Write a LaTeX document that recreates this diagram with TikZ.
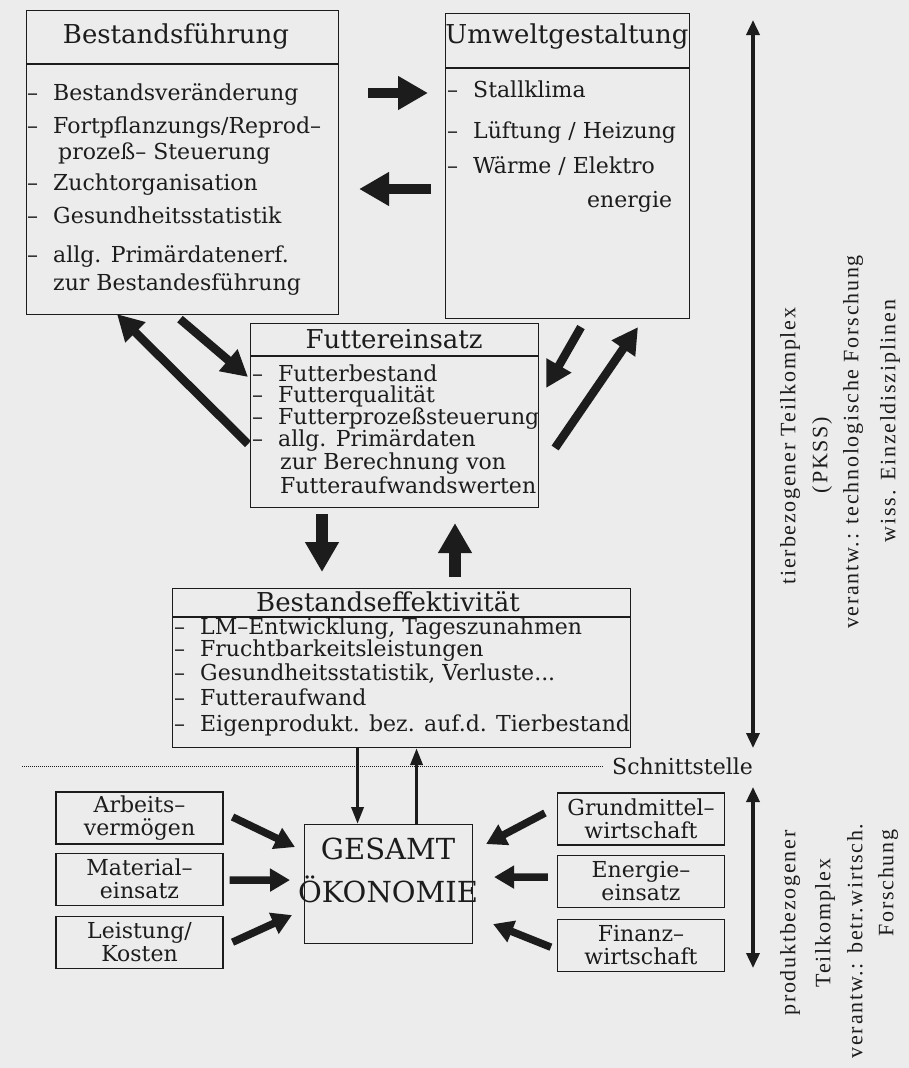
\documentclass[tikz,border=0pt]{standalone}
\usepackage{fontspec}
\setmainfont{DejaVu Serif}
\newfontfamily\sidefont[LetterSpace=8]{Liberation Serif}
\usetikzlibrary{arrows.meta,calc,positioning}
\definecolor{paper}{HTML}{ECECEC}
\definecolor{ink}{HTML}{1C1C1C}
\newcommand{\dsh}{\llap{\makebox[26pt][l]{–}}}

\begin{document}
\begin{tikzpicture}[x=1pt,y=-1pt,ink,
  box node/.style={rectangle,draw,line width=1.1pt,inner sep=0pt,anchor=north west},
  small node/.style={rectangle,draw,line width=1.1pt,inner sep=0pt,minimum width=167pt,
    minimum height=52pt,align=center,font=\fontsize{22}{23}\selectfont},
  title node/.style={inner sep=0pt,font=\fontsize{26}{28}\selectfont},
  line node/.style={anchor=west,inner sep=0pt,text height=14pt,text depth=4pt,
    font=\fontsize{22}{24}\selectfont},
  side node/.style={rotate=90,inner sep=0pt,font=\sidefont\fontsize{22}{24}\selectfont},
  big arrow/.style={-{Triangle[length=30pt,width=32pt]},line width=10pt},
  mid arrow/.style={-{Triangle[length=26pt,width=27pt]},line width=8.5pt},
  low arrow/.style={-{Triangle[length=20pt,width=22pt]},line width=7.5pt},
  thin arrow/.style={-{Triangle[length=17pt,width=12pt]},line width=3.5pt},
  axis arrow/.style={{Triangle[length=15pt,width=13pt]}-{Triangle[length=15pt,width=13pt]},
    line width=3.5pt}]

  \fill[paper] (0,0) rectangle (909,1068);
  \useasboundingbox (0,0) rectangle (909,1068);

  \node[box node,minimum width=312pt,minimum height=304pt] (bf) at (26,10) {};
  \node[box node,minimum width=244pt,minimum height=305pt] (uw) at (445,13) {};
  \node[box node,minimum width=288pt,minimum height=184pt] (fe) at (250,323) {};
  \node[box node,minimum width=458pt,minimum height=159pt] (be) at (172,588) {};
  \node[box node,minimum width=168pt,minimum height=119pt] (ges) at (304,824) {};

  \draw[line width=1.1pt] ([yshift=-54pt]bf.north west) -- ([yshift=-54pt]bf.north east);
  \draw[line width=1.1pt] ([yshift=-55pt]uw.north west) -- ([yshift=-55pt]uw.north east);
  \draw[line width=1.1pt] ([yshift=-33pt]fe.north west) -- ([yshift=-33pt]fe.north east);
  \draw[line width=1.1pt] ([yshift=-29pt]be.north west) -- ([yshift=-29pt]be.north east);

  \node[title node] (bft) at (176,36) {Bestandsführung};
  \node[title node] (uwt) at (567,37) {Umweltgestaltung};
  \node[title node] (fet) at (394,339) {Futtereinsatz};
  \node[title node] (bet) at (388,602) {Bestandseffektivität};

  \foreach \y/\t [count=\i] in {95/{\dsh Bestandsveränderung},128/{\dsh Fortpflanzungs/Reprod–},
    154/{\hspace{5pt}prozeß– Steuerung},185/{\dsh Zuchtorganisation},218/{\dsh Gesundheitsstatistik},
    257/{\dsh allg. Primärdatenerf.},285/{zur Bestandesführung}}
    \node[line node] (bf\i) at (53,\y) {\t};

  \foreach \x/\y/\t [count=\i] in {473/92/{\dsh Stallklima},473/133/{\dsh Lüftung / Heizung},
    473/168/{\dsh Wärme / Elektro},587/202/energie}
    \node[line node] (uw\i) at (\x,\y) {\t};

  \foreach \x/\y/\t [count=\i] in {278/376/{\dsh Futterbestand},278/397/{\dsh Futterqualität},
    278/419/{\dsh Futterprozeßsteuerung},278/441/{\dsh allg. Primärdaten},
    280/464/{zur Berechnung von},280/488/Futteraufwandswerten}
    \node[line node] (fe\i) at (\x,\y) {\t};

  \foreach \y/\t [count=\i] in {629/{\dsh LM–Entwicklung, Tageszunahmen},651/{\dsh Fruchtbarkeitsleistungen},
    675/{\dsh Gesundheitsstatistik, Verluste...},700/{\dsh Futteraufwand},
    726/{\dsh Eigenprodukt. bez. auf.d. Tierbestand}}
    \node[line node] (be\i) at (200,\y) {\t};

  \node[inner sep=0pt,align=center,font=\fontsize{29}{43}\selectfont] (gest) at (388,870) {GESAMT\\ÖKONOMIE};

  \node[small node] (arb) at (139.5,818) {Arbeits–\\vermögen};
  \node[small node,below=8pt of arb] (mat) {Material–\\einsatz};
  \node[small node,below=10pt of mat] (lei) {Leistung/\\Kosten};
  \node[small node] (gru) at (641,819) {Grundmittel–\\wirtschaft};
  \node[small node,below=9pt of gru] (ene) {Energie–\\einsatz};
  \node[small node,below=11pt of ene] (fin) {Finanz–\\wirtschaft};

  \node[line node] (sst) at (612,769) {Schnittstelle};
  \coordinate (dot0) at (22,766);
  \draw[densely dotted,line width=1pt,shorten >=9pt] (dot0) -- (sst.west |- dot0);

  \coordinate (ax1) at (753,20);
  \coordinate (ax2) at (753,748);
  \coordinate (ax3) at (753,787);
  \coordinate (ax4) at (753,968);
  \draw[axis arrow] (ax2) -- (ax1);
  \draw[axis arrow] (ax3) -- (ax4);

  \node[side node] (s1) at (790,446) {tierbezogener Teilkomplex};
  \node[side node] (s2) at (822,455) {(PKSS)};
  \node[side node] (s3) at (853,442) {verantw.: technologische Forschung};
  \node[side node] (s4) at (890,421) {wiss. Einzeldisziplinen};
  \node[side node] (s5) at (790,923) {produktbezogener};
  \node[side node] (s6) at (825,923) {Teilkomplex};
  \node[side node] (s7) at (855,941) {verantw.: betr.wirtsch.};
  \node[side node] (s8) at (888,883) {Forschung};

  \draw[big arrow] ($(bf.north east)+(29,83)$) -- ($(uw.north west)+(-17,80)$);
  \draw[big arrow] ($(uw.north west)+(-14,176)$) -- ($(bf.north east)+(20,179)$);
  \draw[mid arrow] ($(fe.north west)+(-2,121)$) -- ($(bf.south west)+(91,-1)$);
  \draw[mid arrow] ($(bf.south west)+(154,4)$) -- ($(fe.north west)+(-2,54)$);
  \draw[mid arrow] ($(uw.south west)+(136,8)$) -- ($(fe.north east)+(7,65)$);
  \draw[mid arrow] ($(fe.north east)+(16,125)$) -- ($(uw.south west)+(193,8)$);
  \draw[big arrow,line width=12pt] ($(fe.south west)+(72,6)$) -- ($(be.north west)+(150,-16)$);
  \draw[big arrow,line width=12pt] ($(be.north west)+(283,-11)$) -- ($(fe.south west)+(205,15)$);
  \draw[thin arrow] ($(be.south)+(-44,0)$) -- ($(ges.north)+(-31,0)$);
  \draw[thin arrow] ($(ges.north)+(28,0)$) -- ($(be.south)+(15,0)$);

  \draw[low arrow] ($(arb.east)+(9,-1)$) -- ($(ges.west)+(-9,-37)$);
  \draw[low arrow] ($(mat.east)+(6,1)$) -- ($(ges.west)+(-14,-4)$);
  \draw[low arrow] ($(lei.east)+(9,0)$) -- ($(ges.west)+(-12,31)$);
  \draw[low arrow] ($(gru.west)+(-12,-6)$) -- ($(ges.east)+(13,-40)$);
  \draw[low arrow] ($(ene.west)+(-9,-4)$) -- ($(ges.east)+(21,-7)$);
  \draw[low arrow] ($(fin.west)+(-6,2)$) -- ($(ges.east)+(20,40)$);

\end{tikzpicture}
\end{document}
